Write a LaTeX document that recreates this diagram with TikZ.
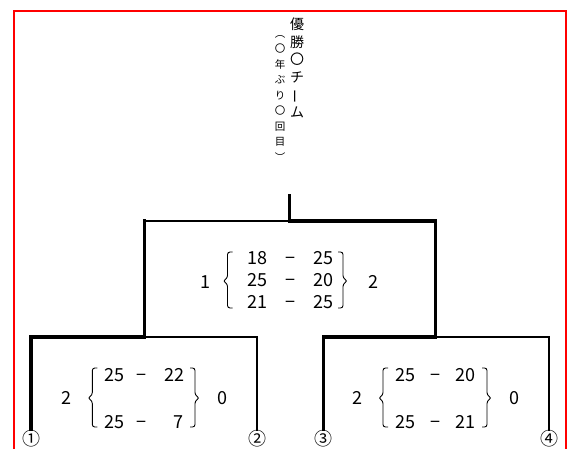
\documentclass[tikz,border=0pt]{standalone}
\usepackage{fontspec}
\usepackage{graphicx}
\newfontfamily\cjk{Noto Sans CJK JP}
\tikzset{
  thickln/.style={line width=3.5pt, line cap=rect},
  thinln/.style={line width=2pt, line cap=rect},
  brc/.style={line width=0.9pt, rounded corners=2.5pt},
  score/.style={font=\cjk\fontsize{18}{20}\selectfont, inner sep=0, text height=13pt, text depth=0pt},
  team/.style={font=\cjk\fontsize{18}{20}\selectfont, inner sep=0},
  bigtitle/.style={font=\cjk\fontsize{14}{17.5}\selectfont, inner sep=0, align=center},
  smalltitle/.style={font=\cjk\fontsize{10.5}{15.5}\selectfont, inner sep=0, align=center},
}
\newcommand\mylbr[4]{% v, top, mid, bottom
  \draw[brc] ({#1+5},#2) -- (#1,#2) -- (#1,{#3-3}) -- ({#1-4.5},#3) -- (#1,{#3+3}) -- (#1,#4) -- ({#1+5},#4);}
\newcommand\myrbr[4]{%
  \draw[brc] ({#1-5},#2) -- (#1,#2) -- (#1,{#3-3}) -- ({#1+4.5},#3) -- (#1,{#3+3}) -- (#1,#4) -- ({#1-5},#4);}
\begin{document}
\begin{tikzpicture}[x=1pt,y=-1pt]
\useasboundingbox (0,0) rectangle (573,448);
% red frame
\draw[red, line width=2pt] (13.5,10.5) rectangle (565.5,470);

% title
\node[bigtitle, anchor=north] (title) at (297,18) {優\\勝\\〇\\チ\\\smash{\rotatebox[origin=c]{90}{ー}}\\ム};
\node[smalltitle, anchor=north] (sub) at (280,35) {︵\\〇\\年\\ぶ\\り\\〇\\回\\目\\︶};

% teams
\node[team] (t1) at (32,438.5) {①};
\node[team] (t2) at (257.5,438.5) {②};
\node[team] (t3) at (323,438.5) {③};
\node[team] (t4) at (549,438.5) {④};
\coordinate (e1) at (31,429.5);
\coordinate (e2) at (257,429.5);
\coordinate (e3) at (323.3,429.5);
\coordinate (e4) at (548.7,429.5);
\coordinate (s1) at (144.7,337);
\coordinate (s2) at (435.7,337);
\coordinate (f) at (289.5,221);
\coordinate (c) at (289.5,196);

% bracket lines
\draw[thickln] (e1) |- (s1);
\draw[thinln] (s1) -| (e2);
\draw[thickln] (e3) |- (s2);
\draw[thinln] (s2) -| (e4);
\draw[thickln] (s1) -- (s1 |- f);
\draw[thinln] (s1 |- f) -- (f);
\draw[thickln] (s2) |- (f);
\draw[thickln] (f) -- (c);

% final scores
\node[score] (fl) at (205,281.5) {1};
\node[score] (fr) at (373.3,281.5) {2};
\node[score] (f1a) at (257.7,257.5) {18};
\node[score] (f1d) at (290,257.5) {−};
\node[score] (f1b) at (323.3,257.5) {25};
\node[score] (f2a) at (257.7,280.3) {25};
\node[score] (f2d) at (290,280.3) {−};
\node[score] (f2b) at (323.3,280.3) {20};
\node[score] (f3a) at (257.7,301.7) {21};
\node[score] (f3d) at (290,301.7) {−};
\node[score] (f3b) at (323.3,301.7) {25};
\mylbr{227.5}{252}{281}{308}
\myrbr{343}{252}{281}{308}

% semifinal 1
\node[score] (al) at (66,398) {2};
\node[score] (ar) at (222.5,398) {0};
\node[score] (a1a) at (114,375) {25};
\node[score] (a1d) at (141.7,375) {−};
\node[score] (a1b) at (174,375) {22};
\node[score] (a2a) at (114,422) {25};
\node[score] (a2d) at (141.7,422) {−};
\node[score, anchor=east] (a2b) at (183.5,422) {7};
\mylbr{92.3}{368}{398}{427}
\myrbr{195}{368}{398}{427}

% semifinal 2
\node[score] (bl) at (357.3,398) {2};
\node[score] (br) at (514,398) {0};
\node[score] (b1a) at (405.7,375) {25};
\node[score] (b1d) at (435,375) {−};
\node[score] (b1b) at (465.7,375) {20};
\node[score] (b2a) at (405.7,422) {25};
\node[score] (b2d) at (435,422) {−};
\node[score] (b2b) at (465.7,422) {21};
\mylbr{383}{368}{398}{427}
\myrbr{487}{368}{398}{427}
\end{tikzpicture}
\end{document}
